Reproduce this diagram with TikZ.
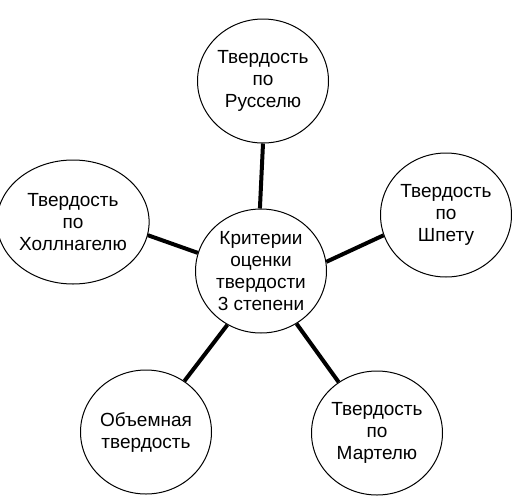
\documentclass[tikz,border=0pt]{standalone}
\usepackage{fontspec}
\setmainfont{Liberation Sans}
\usetikzlibrary{shapes.geometric}
\tikzset{
  bubble/.style={draw=black, line width=1pt, ellipse, minimum width=131pt, minimum height=124pt, inner sep=0pt, align=center, font=\fontsize{19pt}{22pt}\selectfont},
  link/.style={draw=black, line width=4pt}
}
\begin{document}
\begin{tikzpicture}[x=1pt,y=-1pt]
\fill[white] (0,0) rectangle (512,496);
\useasboundingbox (0,0) rectangle (512,496);
\node[bubble] (c) at (261,271) {Критерии\\оценки\\твердости\\3 степени};
\node[bubble] (t) at (263,81) {Твердость\\по\\Русселю};
\node[bubble] (l) at (73,222) {Твердость\\по\\Холлнагелю};
\node[bubble] (r) at (446,215) {Твердость\\по\\Шпету};
\node[bubble] (bl) at (146,432) {Объемная\\твердость};
\node[bubble] (br) at (377,433) {Твердость\\по\\Мартелю};
\draw[link] (c.91) -- (t.270);
\draw[link] (c.164) -- (l.-10);
\draw[link] (c.8) -- (r.198);
\draw[link] (c.238) -- (bl.53);
\draw[link] (c.-56) -- (br.127);
\end{tikzpicture}
\end{document}
